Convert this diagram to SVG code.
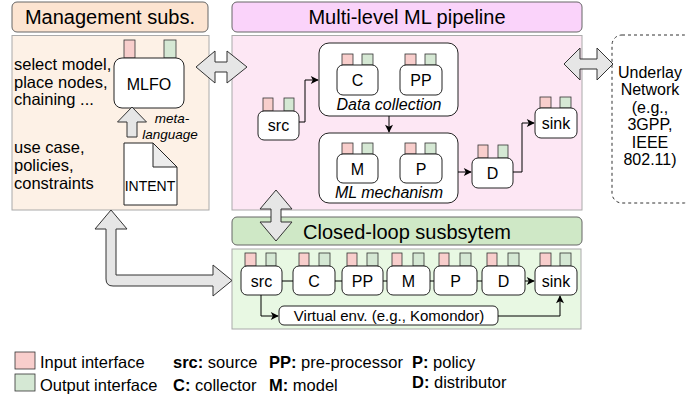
<svg xmlns="http://www.w3.org/2000/svg" width="686" height="405" viewBox="0 0 686 405">
<defs>
<marker id="ah" viewBox="0 0 10 10" refX="9" refY="5" markerWidth="10" markerHeight="8" markerUnits="userSpaceOnUse" orient="auto">
<path d="M0,0 L10,5 L0,10 L2.5,5 Z" fill="#000"/>
</marker>
</defs>
<style>
text{font-family:"Liberation Sans",Arial,sans-serif;fill:#000}
.hd{font-size:20px;text-anchor:middle}
.t16{font-size:16px}
.t165{font-size:16.5px}
.c{text-anchor:middle}
.it{font-style:italic}
.box{fill:#fff;stroke:#222;stroke-width:1}
.grp{fill:#fff;stroke:#222;stroke-width:1}
.in{fill:#f8cecc;stroke:#333;stroke-width:0.8}
.out{fill:#d5e8d4;stroke:#333;stroke-width:0.8}
.big{fill:#e6e6e6;stroke:#333;stroke-width:1;stroke-linejoin:miter}
.ln{fill:none;stroke:#000;stroke-width:1}
.arr{fill:none;stroke:#000;stroke-width:1;marker-end:url(#ah)}
</style>

<g id="management">
<rect x="12" y="2" width="196" height="30" rx="5" fill="#fce4d1" stroke="#666"/>
<text class="hd" x="110" y="24">Management subs.</text>
<rect x="12" y="35.5" width="197" height="174.5" fill="#fdf1e6" stroke="#aaa"/>
<text class="t165" x="14" y="70">select model,</text>
<text class="t165" x="14" y="88">place nodes,</text>
<text class="t165" x="14" y="105">chaining ...</text>
<text class="t165" x="14" y="153">use case,</text>
<text class="t165" x="14" y="171">policies,</text>
<text class="t165" x="14" y="189">constraints</text>
</g>

<g id="mlfo">
<rect class="in" x="124" y="40" width="11" height="18"/>
<rect class="out" x="164" y="40" width="12" height="18"/>
<rect class="box" x="114" y="58" width="70" height="50" rx="8"/>
<text class="t16 c" x="149" y="90">MLFO</text>
</g>

<g id="meta-language">
<path class="big" d="M132,107 L146.5,122 L137,122 L137,137 L127,137 L127,122 L117.5,122 Z"/>
<text class="it c" x="172" y="123" font-size="13.5">meta-</text>
<text class="it c" x="170" y="138.5" font-size="13.5">language</text>
</g>

<g id="intent">
<path d="M124,143 L153,143 L177,167 L177,205 L124,205 Z" fill="#fff" stroke="#222"/>
<path d="M153,143 L153,167 L177,167 Z" fill="#ececec" stroke="#222"/>
<text class="c" x="150" y="191" font-size="14">INTENT</text>
</g>

<g id="pipeline">
<rect x="232" y="2" width="350" height="30" rx="5" fill="#fad3fa" stroke="#666"/>
<text class="hd" x="407" y="24">Multi-level ML pipeline</text>
<rect x="232" y="35.5" width="350" height="174.5" fill="#fde7f4" stroke="#aaa"/>
</g>

<g id="p-src">
<rect class="in" x="263" y="98" width="10" height="13"/>
<rect class="out" x="284" y="98" width="10" height="13"/>
<rect class="box" x="258" y="111" width="41" height="29" rx="6"/>
<text class="t16 c" x="278.5" y="131">src</text>
</g>

<g id="data-collection">
<rect class="grp" x="319" y="43" width="139" height="73" rx="10"/>
<rect class="in" x="342" y="54" width="11" height="11"/>
<rect class="out" x="362" y="54" width="11" height="11"/>
<rect class="box" x="337" y="65" width="41" height="30" rx="6"/>
<text class="t16 c" x="357.5" y="86">C</text>
<rect class="in" x="405" y="54" width="11" height="11"/>
<rect class="out" x="425" y="54" width="11" height="11"/>
<rect class="box" x="400" y="65" width="42" height="30" rx="6"/>
<text class="t16 c" x="421" y="86">PP</text>
<text class="t16 c it" x="389" y="110">Data collection</text>
</g>

<g id="ml-mechanism">
<rect class="grp" x="319" y="133" width="139" height="70" rx="10"/>
<rect class="in" x="342" y="143" width="11" height="11"/>
<rect class="out" x="362" y="143" width="11" height="11"/>
<rect class="box" x="337" y="154" width="41" height="29" rx="6"/>
<text class="t16 c" x="357.5" y="175">M</text>
<rect class="in" x="405" y="143" width="11" height="11"/>
<rect class="out" x="425" y="143" width="11" height="11"/>
<rect class="box" x="400" y="154" width="42" height="29" rx="6"/>
<text class="t16 c" x="421" y="175">P</text>
<text class="t16 c it" x="389" y="198">ML mechanism</text>
</g>

<g id="p-d">
<rect class="in" x="478" y="145" width="10" height="13"/>
<rect class="out" x="498" y="145" width="10" height="13"/>
<rect class="box" x="472" y="158" width="41" height="30" rx="6"/>
<text class="t16 c" x="492.5" y="179">D</text>
</g>

<g id="p-sink">
<rect class="in" x="540" y="97" width="11" height="11"/>
<rect class="out" x="560" y="97" width="11" height="11"/>
<rect class="box" x="535" y="108" width="42" height="30" rx="6"/>
<text class="t16 c" x="556" y="129">sink</text>
</g>

<g id="underlay">
<rect x="612" y="35" width="82" height="168" rx="10" fill="#fff" stroke="#333" stroke-dasharray="3,3"/>
<text class="t16 c" x="650" y="78">Underlay</text>
<text class="t16 c" x="650" y="95">Network</text>
<text class="t16 c" x="650" y="113">(e.g.,</text>
<text class="t16 c" x="650" y="130">3GPP,</text>
<text class="t16 c" x="650" y="148">IEEE</text>
<text class="t16 c" x="650" y="165">802.11)</text>
</g>

<g id="closed-loop">
<rect x="232" y="217" width="350" height="28" rx="5" fill="#cfe8c6" stroke="#666"/>
<text class="hd" x="407" y="239">Closed-loop susbsytem</text>
<rect x="232" y="249" width="349" height="80" fill="#e8f8e3" stroke="#aaa"/>
</g>

<g id="c-src">
<rect class="in" x="245" y="253" width="11" height="13"/>
<rect class="out" x="266" y="253" width="10" height="13"/>
<rect class="box" x="241" y="266" width="41" height="29" rx="6"/>
<text class="t16 c" x="261.5" y="287">src</text>
</g>
<g id="c-c">
<rect class="in" x="299" y="253" width="10" height="13"/>
<rect class="out" x="319" y="253" width="11" height="13"/>
<rect class="box" x="293" y="266" width="42" height="29" rx="6"/>
<text class="t16 c" x="314" y="287">C</text>
</g>
<g id="c-pp">
<rect class="in" x="347" y="253" width="10" height="13"/>
<rect class="out" x="367" y="253" width="11" height="13"/>
<rect class="box" x="342" y="266" width="41" height="29" rx="6"/>
<text class="t16 c" x="362.5" y="287">PP</text>
</g>
<g id="c-m">
<rect class="in" x="392" y="253" width="10" height="13"/>
<rect class="out" x="413" y="253" width="11" height="13"/>
<rect class="box" x="387" y="266" width="43" height="29" rx="6"/>
<text class="t16 c" x="408.5" y="287">M</text>
</g>
<g id="c-p">
<rect class="in" x="439" y="253" width="10" height="13"/>
<rect class="out" x="460" y="253" width="11" height="13"/>
<rect class="box" x="434" y="266" width="43" height="29" rx="6"/>
<text class="t16 c" x="455.5" y="287">P</text>
</g>
<g id="c-d">
<rect class="in" x="487" y="253" width="10" height="13"/>
<rect class="out" x="508" y="253" width="11" height="13"/>
<rect class="box" x="482" y="266" width="43" height="29" rx="6"/>
<text class="t16 c" x="503.5" y="287">D</text>
</g>
<g id="c-sink">
<rect class="in" x="540" y="253" width="11" height="13"/>
<rect class="out" x="560" y="253" width="11" height="13"/>
<rect class="box" x="535" y="266" width="42" height="29" rx="6"/>
<text class="t16 c" x="556" y="287">sink</text>
</g>
<g id="virtual-env">
<rect class="box" x="279" y="306" width="219" height="19" rx="5"/>
<text class="c" x="389" y="321" font-size="15">Virtual env. (e.g., Komondor)</text>
</g>

<g id="connectors">
<path class="big" d="M196,67 L215,51 L215,62 L227,62 L227,51 L247,67 L227,83 L227,72 L215,72 L215,83 Z"/>
<path class="big" d="M564,64 L580,48 L580,59 L597,59 L597,48 L613,64 L597,80 L597,69 L580,69 L580,80 Z"/>
<path class="big" d="M276,190 L292,209 L281,209 L281,222 L292,222 L276,241 L260,222 L271,222 L271,209 L260,209 Z"/>
<path class="big" d="M111,210 L127,229 L116,229 L116,275 L213,275 L213,265 L232,280.5 L213,296 L213,286 L113,286 Q106,286 106,279 L106,229 L95,229 Z"/>
<path class="arr" d="M299,122 L305,122 L305,80 L318,80"/>
<path class="arr" d="M389,116 L389,132"/>
<path class="arr" d="M458,172 L471,172"/>
<path class="arr" d="M513,172 L522,172 L522,123 L534,123"/>
<path class="ln" d="M282,281 L293,281 M335,281 L342,281 M383,281 L387,281 M430,281 L434,281 M477,281 L482,281"/>
<path class="arr" d="M525,281 L534,281"/>
<path class="arr" d="M261,295 L261,316 L278,316"/>
<path class="arr" d="M498,316 L560,316 L560,296"/>
</g>

<g id="legend">
<rect class="in" x="15" y="352" width="20" height="17"/>
<rect class="out" x="15" y="374" width="20" height="17"/>
<text class="t165" x="40" y="368">Input interface</text>
<text class="t165" x="40" y="391">Output interface</text>
<text class="t165" x="173" y="368"><tspan font-weight="bold">src:</tspan> source</text>
<text class="t165" x="173" y="391"><tspan font-weight="bold">C:</tspan> collector</text>
<text class="t165" x="269" y="368"><tspan font-weight="bold">PP:</tspan> pre-processor</text>
<text class="t165" x="269" y="391"><tspan font-weight="bold">M:</tspan> model</text>
<text class="t165" x="412" y="368"><tspan font-weight="bold">P:</tspan> policy</text>
<text class="t165" x="412" y="388"><tspan font-weight="bold">D:</tspan> distributor</text>
</g>
</svg>
